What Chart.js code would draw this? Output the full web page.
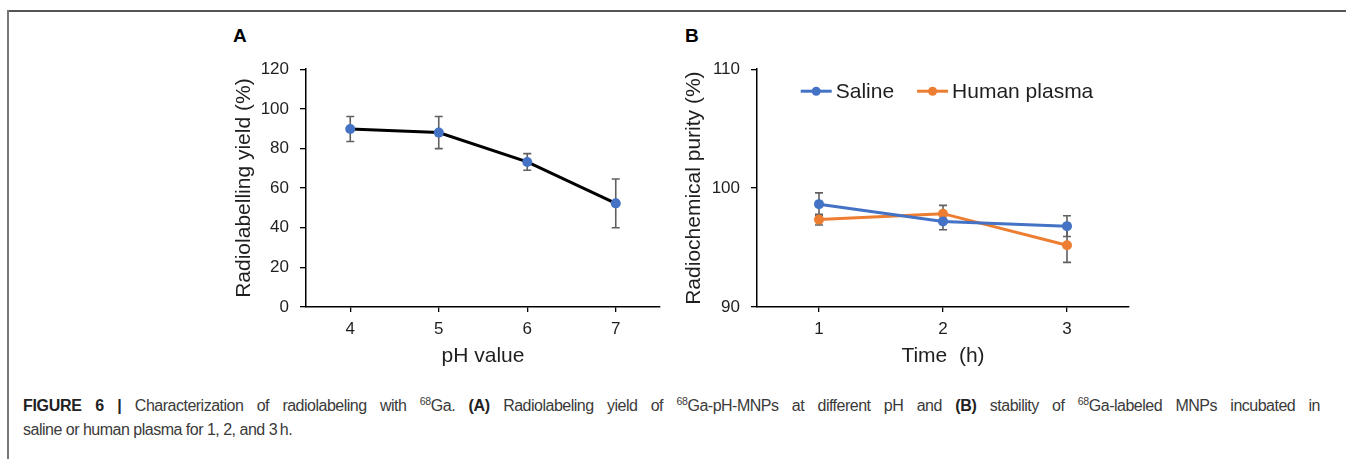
<!DOCTYPE html>
<html lang="en">
<head>
<meta charset="UTF-8">
<title>Figure 6</title>
<script src="https://cdn.jsdelivr.net/npm/chart.js@4.4.1/dist/chart.umd.min.js"></script>
<style>
    body { margin:0; width:1346px; height:459px; background:#fff; position:relative; overflow:hidden;
           font-family:"Liberation Sans", Arial, sans-serif; }
    .frame-top { position:absolute; left:7px; top:10px; width:1339px; height:2px; background:#555; }
    .frame-left { position:absolute; left:7px; top:10px; width:2px; height:449px; background:#777; }
    .panel { position:absolute; font-weight:bold; font-size:19px; color:#000; }
    .wrap { position:absolute; }
    .caption { position:absolute; left:23px; font-size:16px; line-height:18px; letter-spacing:-0.5px; color:#3a3a3a; }
    .caption b { color:#222; letter-spacing:-0.3px; }
    .caption sup { font-size:10.5px; line-height:0; vertical-align:6px; letter-spacing:-0.3px; }
    #line1 { width:1297px; text-align:justify; text-align-last:justify; white-space:nowrap; }
</style>
</head>
<body>
    <div class="frame-top"></div>
    <div class="frame-left"></div>

    <div class="panel" style="left:233px; top:25px;">A</div>
    <div class="panel" style="left:685px; top:25px;">B</div>

    <div class="wrap" style="left:220px; top:48px;"><canvas id="chartA" width="450" height="322"></canvas></div>
    <div class="wrap" style="left:670px; top:48px;"><canvas id="chartB" width="470" height="322"></canvas></div>

    <div class="caption" id="line1" style="top:397px;"><b>FIGURE 6 |</b> Characterization of radiolabeling with <sup>68</sup>Ga. <b>(A)</b> Radiolabeling yield of <sup>68</sup>Ga-pH-MNPs at different pH and <b>(B)</b> stability of <sup>68</sup>Ga-labeled MNPs incubated in</div>
    <div class="caption" style="top:421px;">saline or human plasma for 1, 2, and 3&#8201;h.</div>

<script>
    // panel A: yield vs pH
    const phLabels = ['4', '5', '6', '7'];
    const yieldValues = [89.8, 88.0, 73.2, 52.3];
    const yieldErrors = [6.3, 8.1, 4.2, 12.3];

    // panel B: stability vs time
    const timeLabels = ['1', '2', '3'];
    const salineValues = [98.65, 97.2, 96.8];
    const salineErrors = [0.95, 0.7, 0.87];
    const plasmaValues = [97.35, 97.85, 95.2];
    const plasmaErrors = [0.45, 0.7, 1.45];

    const BLUE = '#4472C4';
    const ORANGE = '#ED7D31';
    const TEXT = '#1f1f1f';
    const FONT = "'Liberation Sans', Arial, sans-serif";

    Chart.defaults.font.family = FONT;
    Chart.defaults.color = TEXT;

    // error bars, drawn under the lines
    const errorBars = {
        id: 'errorBars',
        beforeDatasetsDraw(chart) {
            const ctx = chart.ctx;
            const x = chart.scales.x, y = chart.scales.y;
            ctx.save();
            ctx.strokeStyle = '#606060';
            ctx.lineWidth = 1.6;
            chart.data.datasets.forEach(ds => {
                if (!ds.errors) return;
                ds.data.forEach((v, j) => {
                    const px = x.getPixelForValue(j);
                    const top = y.getPixelForValue(v + ds.errors[j]);
                    const bot = y.getPixelForValue(v - ds.errors[j]);
                    ctx.beginPath();
                    ctx.moveTo(px, top); ctx.lineTo(px, bot);
                    ctx.moveTo(px - 4, top); ctx.lineTo(px + 4, top);
                    ctx.moveTo(px - 4, bot); ctx.lineTo(px + 4, bot);
                    ctx.stroke();
                });
            });
            ctx.restore();
        }
    };

    // excel-style legend in a row inside the plot area
    const insideLegend = {
        id: 'insideLegend',
        afterDraw(chart) {
            const ctx = chart.ctx, area = chart.chartArea;
            const markW = 31, textGap = 4, itemGap = 23;
            ctx.save();
            ctx.font = '21px ' + FONT;
            const items = chart.data.datasets.map(ds => ({
                label: ds.label,
                color: ds.borderColor,
                w: markW + textGap + ctx.measureText(ds.label).width
            }));
            const total = items.reduce((s, it) => s + it.w, 0) + itemGap * (items.length - 1);
            let x = (area.left + area.right) / 2 - total / 2 + 4;
            const y = area.top + 22;
            items.forEach(it => {
                ctx.strokeStyle = it.color; ctx.lineWidth = 3;
                ctx.beginPath(); ctx.moveTo(x, y); ctx.lineTo(x + markW, y); ctx.stroke();
                ctx.fillStyle = it.color;
                ctx.beginPath(); ctx.arc(x + markW / 2, y, 4.5, 0, Math.PI * 2); ctx.fill();
                ctx.fillStyle = TEXT;
                ctx.textBaseline = 'middle';
                ctx.fillText(it.label, x + markW + textGap, y + 1);
                x += it.w + itemGap;
            });
            ctx.restore();
        }
    };

    function xAxis(title) {
        return {
            offset: true,
            ticks: { font: { size: 17 }, padding: 7 },
            grid: { offset: false, drawOnChartArea: false, tickLength: 5, color: '#000', lineWidth: 1.3 },
            border: { color: '#000', width: 1.5 },
            title: { display: true, text: title, font: { size: 21 }, padding: { top: 0, bottom: 1 } },
            afterFit(s) { s.height = 63; }
        };
    }

    function yAxis(min, max, step, title, w) {
        return {
            min: min, max: max,
            ticks: { stepSize: step, font: { size: 17 }, padding: 11 },
            grid: { drawOnChartArea: false, tickLength: 6, color: '#000', lineWidth: 1.3 },
            border: { color: '#000', width: 1.5 },
            title: { display: true, text: title, font: { size: 21 }, padding: { top: 12, bottom: 0 } },
            afterFit(s) { s.width = w; }
        };
    }

    function series(label, values, errors, lineColor, dotColor) {
        return {
            label: label,
            data: values,
            errors: errors,
            borderColor: lineColor,
            borderWidth: 3,
            pointBackgroundColor: dotColor,
            pointBorderColor: dotColor,
            pointBorderWidth: 0,
            pointRadius: 5,
            tension: 0
        };
    }

    new Chart(document.getElementById('chartA'), {
        type: 'line',
        data: {
            labels: phLabels,
            datasets: [series('Yield', yieldValues, yieldErrors, '#000', BLUE)]
        },
        options: {
            responsive: false,
            animation: false,
            layout: { padding: { top: 2, right: 10, left: 0, bottom: 0 } },
            plugins: { legend: { display: false }, tooltip: { enabled: false } },
            scales: {
                x: xAxis('pH value'),
                y: yAxis(0, 120, 20, 'Radiolabelling yield (%)', 86)
            }
        },
        plugins: [errorBars]
    });

    new Chart(document.getElementById('chartB'), {
        type: 'line',
        data: {
            labels: timeLabels,
            datasets: [
                series('Saline', salineValues, salineErrors, BLUE, BLUE),
                series('Human plasma', plasmaValues, plasmaErrors, ORANGE, ORANGE)
            ]
        },
        options: {
            responsive: false,
            animation: false,
            layout: { padding: { top: 2, right: 11, left: 0, bottom: 0 } },
            plugins: { legend: { display: false }, tooltip: { enabled: false } },
            scales: {
                x: xAxis('Time  (h)'),
                y: yAxis(90, 110, 10, 'Radiochemical purity (%)', 87)
            }
        },
        plugins: [errorBars, insideLegend]
    });
</script>
</body>
</html>
